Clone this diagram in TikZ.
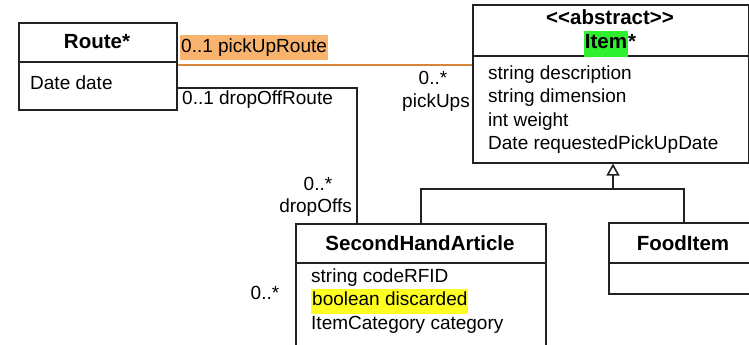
\documentclass[tikz,border=0pt]{standalone}
\usepackage{fontspec}
\setmainfont{Liberation Sans}
\usetikzlibrary{arrows.meta,calc}
\definecolor{linegray}{HTML}{222222}
\definecolor{assocorange}{HTML}{D6863C}
\definecolor{hlorange}{HTML}{F8B46E}
\definecolor{hlgreen}{HTML}{2EF02E}
\definecolor{hlyellow}{HTML}{FFFF22}
\newcommand{\hl}[2]{{\setlength{\fboxsep}{1pt}\colorbox{#1}{\strut #2}}}
\tikzset{
  classbox/.style={draw=linegray, line width=1.6pt, rectangle, anchor=north west, inner sep=0pt},
  divider/.style={draw=linegray, line width=1.6pt},
  title/.style={font=\fontsize{20.5}{24}\selectfont\bfseries, inner sep=0pt, text=black},
  attr/.style={font=\fontsize{19}{23.3}\selectfont, inner sep=0pt, align=left, anchor=west, text=black},
  lbl/.style={font=\fontsize{19}{23}\selectfont, inner sep=0pt, text=black},
  assoc/.style={draw=linegray, line width=1.6pt},
  pickassoc/.style={draw=assocorange, line width=1.8pt},
  gen/.style={draw=linegray, line width=1.6pt},
  gentip/.style={-{Triangle[open,width=13pt,length=12pt,line width=1.6pt]}}
}
\begin{document}
\begin{tikzpicture}[x=1pt,y=-1pt]
\useasboundingbox (0,0) rectangle (749,345);
\clip (0,0) rectangle (749,345);
\fill[white] (0,0) rectangle (749,345);

% Route class
\node[classbox, minimum width=158pt, minimum height=87pt] (route) at (18,22) {};
\draw[divider] (route.west |- 0,62) -- (route.east |- 0,62);
\node[title] (routeT) at (97,42) {Route*};
\node[attr] (routeA) at (30,83) {Date date};

% Item class (abstract)
\node[classbox, minimum width=276pt, minimum height=158pt] (item) at (472,4) {};
\draw[divider] (item.west |- 0,56) -- (item.east |- 0,56);
\node[title] (itemS) at (610,17) {<{}<abstract>{}>};
\node[title] (itemT) at (610,44) {\hl{hlgreen}{Item}*};
\node[attr] (itemA) at (488,109.5) {string description\\string dimension\\int weight\\Date requestedPickUpDate};

% SecondHandArticle class
\node[classbox, minimum width=250pt, minimum height=140pt] (sha) at (295,223) {};
\draw[divider] (sha.west |- 0,263) -- (sha.east |- 0,263);
\node[title] (shaT) at (420,243) {SecondHandArticle};
\node[attr] (shaA) at (311,301) {string codeRFID\\\hl{hlyellow}{boolean discarded}\\ItemCategory category};

% FoodItem class
\node[classbox, minimum width=150pt, minimum height=71pt] (food) at (608,222) {};
\draw[divider] (food.west |- 0,263) -- (food.east |- 0,263);
\node[title] (foodT) at (683,243) {FoodItem};

% pickUp association
\draw[pickassoc] ([yshift=1pt]route.east) -- ([yshift=1pt]route.east -| item.west);
\node[lbl, anchor=west] (pickR) at (180,47.5) {\hl{hlorange}{0..1 pickUpRoute}};
\node[lbl] (pickM) at (433,78) {0..*};
\node[lbl, anchor=east] (pickN) at (470,103) {pickUps};

% dropOff association
\coordinate (dropBend) at (357,88);
\draw[assoc] (route.east |- dropBend) -- (dropBend) -- (dropBend |- sha.north);
\node[lbl, anchor=west] (dropR) at (182,100) {0..1 dropOffRoute};
\node[lbl] (dropM) at (318,184) {0..*};
\node[lbl, anchor=east] (dropN) at (352,208) {dropOffs};
\node[lbl] (shaM) at (265,293) {0..*};

% generalization
\coordinate (joint) at (613,189);
\draw[gen] (sha.north) |- (joint) -| (food.north);
\draw[gen, gentip] (joint) -- (joint |- item.south);
\end{tikzpicture}
\end{document}
